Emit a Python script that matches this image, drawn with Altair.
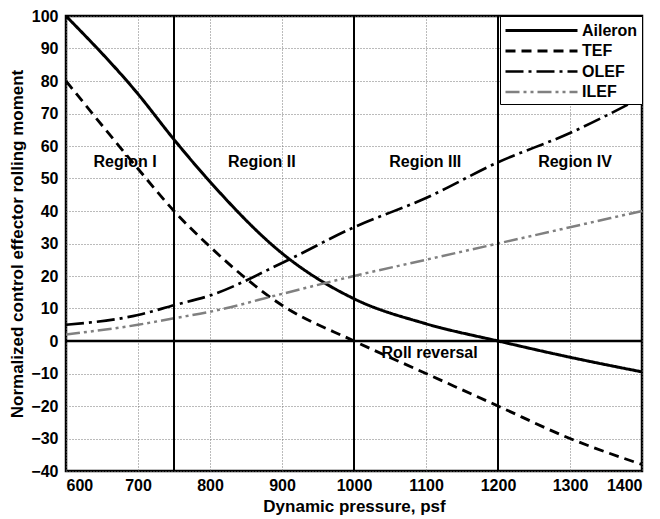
import altair as alt
import pandas as pd

q = [600, 700, 750, 800, 900, 1000, 1100, 1200, 1300, 1400]
aileron = [100, 76, 62, 49, 27, 13, 5.3, 0, -5, -9.5]
tef = [80, 53, 40, 29, 11, 0, -10, -20, -30, -38]
olef = [5, 8, 11, 14, 24, 35, 44, 55, 64, 75]
ilef = [2, 5, 7, 9, 14.5, 20, 25, 30, 35, 40]

series_names = ["Aileron", "TEF", "OLEF", "ILEF"]
series_vals = [aileron, tef, olef, ilef]

boundaries = [750, 1000, 1200]
region_labels = ["Region I", "Region II", "Region III", "Region IV"]
region_x = [682, 872, 1099, 1307]
region_y = [55, 55, 55, 55]

x_ticks = list(range(600, 1401, 100))
y_ticks = list(range(-40, 101, 10))

rows = []
for name, vals in zip(series_names, series_vals):
    for x, v in zip(q, vals):
        rows.append({"q": x, "m": v, "series": name})
df = pd.DataFrame(rows)

FONT = "Liberation Sans"

xsc = alt.Scale(domain=[600, 1400], nice=False, zero=False)
ysc = alt.Scale(domain=[-40, 100], nice=False, zero=False)
xax = alt.Axis(title="Dynamic pressure, psf", values=x_ticks, tickCount=9,
               format="d", grid=True, ticks=False, domain=False, labelPadding=6,
               titlePadding=5, labelOverlap=False)
yax = alt.Axis(title="Normalized control effector rolling moment", values=y_ticks,
               tickCount=15, grid=True, ticks=False, domain=False, labelPadding=8,
               titlePadding=4, labelOverlap=False)


def X(f):
    return alt.X(f, type="quantitative", scale=xsc, axis=xax)


def Y(f):
    return alt.Y(f, type="quantitative", scale=ysc, axis=yax)


lines = alt.Chart(df).mark_line(interpolate="monotone", clip=True).encode(
    x=X("q"),
    y=Y("m"),
    color=alt.Color("series:N", scale=alt.Scale(domain=series_names,
                                                 range=["black", "black", "black", "#808080"]),
                    legend=alt.Legend(title=None, orient="top-right", offset=0,
                                      fillColor="white", strokeColor="black",
                                      padding=4, rowPadding=1.5,
                                      symbolType="M-1,0H7", symbolSize=324,
                                      labelFont=FONT, labelFontSize=16, labelFontWeight="bold",
                                      labelColor="black", labelOffset=57)),
    strokeDash=alt.StrokeDash("series:N", scale=alt.Scale(domain=series_names,
                                                          range=[[1, 0], [10, 6], [18, 5, 3, 5], [14, 4, 3, 4, 3, 4]]),
                              legend=alt.Legend(title=None)),
    strokeWidth=alt.StrokeWidth("series:N", scale=alt.Scale(domain=series_names,
                                                            range=[3, 2.5, 3, 2.2]),
                                legend=alt.Legend(title=None)),
    detail="series:N",
)

bdf = pd.DataFrame({"q": boundaries})
vrules = alt.Chart(bdf).mark_rule(color="black", strokeWidth=2).encode(x=X("q"))
zdf = pd.DataFrame({"m": [0]})
hrule = alt.Chart(zdf).mark_rule(color="black", strokeWidth=2.5).encode(y=Y("m"))

rdf = pd.DataFrame({"q": region_x, "m": region_y, "t": region_labels})
rtext = alt.Chart(rdf).mark_text(font=FONT, fontSize=16, fontWeight="bold", color="black").encode(
    x=X("q"), y=Y("m"), text="t:N")

rrdf = pd.DataFrame({"q": [1105], "m": [-3.6], "t": ["Roll reversal"]})
rrtext = alt.Chart(rrdf).mark_text(font=FONT, fontSize=16, fontWeight="bold", color="black").encode(
    x=X("q"), y=Y("m"), text="t:N")

chart = alt.layer(lines, vrules, hrule, rtext, rrtext).properties(
    width=576, height=455,
    autosize=alt.AutoSizeParams(type="none"),
    padding={"left": 58, "top": 8, "right": 10, "bottom": 46},
).configure(background="white").configure_view(stroke="black", strokeWidth=2.5).configure_axis(
    labelFont=FONT, labelFontSize=16, labelFontWeight="bold", labelColor="black",
    titleFont=FONT, titleFontSize=17, titleFontWeight="bold", titleColor="black",
    gridColor="#777", gridDash=[1, 2], gridWidth=1,
)

chart.save("out.html", embed_options={"renderer": "svg", "actions": False})
